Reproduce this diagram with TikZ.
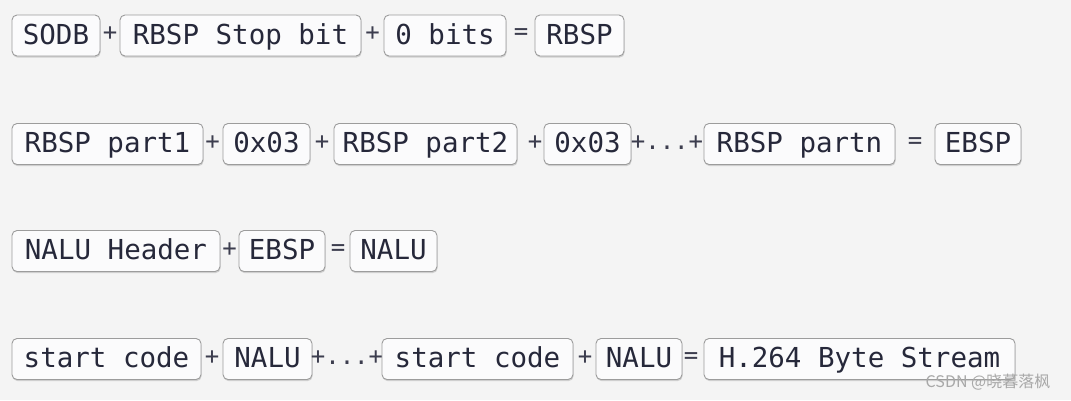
\documentclass[tikz,border=0pt]{standalone}
\usepackage{fontspec}
\usetikzlibrary{shadows}
\newfontfamily\monofont{DejaVu Sans Mono}
\newfontfamily\cjkfont{Noto Sans CJK SC}
\definecolor{bg}{HTML}{F4F4F4}
\definecolor{boxfill}{HTML}{FBFBFC}
\definecolor{boxline}{HTML}{9C9C9C}
\definecolor{txt}{HTML}{26283A}
\definecolor{wm}{HTML}{A8A8A8}
\tikzset{
  fld/.style={draw=boxline, line width=0.9pt, fill=boxfill, rounded corners=5pt,
    minimum height=41pt, inner sep=0pt, text=txt, text height=20pt, text depth=3pt,
    font=\monofont\fontsize{27.5}{30}\selectfont,
    drop shadow={shadow xshift=0.6pt, shadow yshift=-1.6pt, opacity=0.35, fill=black!45}},
  op/.style={inner sep=0pt, text=txt!90, font=\monofont\fontsize{24}{26}\selectfont},
  wmark/.style={inner sep=0pt, text=wm, font=\cjkfont\fontsize{16}{18}\selectfont}
}
\begin{document}
\begin{tikzpicture}[x=1pt,y=-1pt]
\fill[bg] (0,0) rectangle (1071,400);
\useasboundingbox (0,0) rectangle (1071,400);
% Row 1
\node[fld, minimum width=88] (sodb) at (56,35.5) {SODB};
\node[op] (r1p1) at (110,34) {+};
\node[fld, minimum width=241] (stop) at (240.5,35.5) {RBSP Stop bit};
\node[op] (r1p2) at (372.5,34) {+};
\node[fld, minimum width=122] (zero) at (445,35.5) {0 bits};
\node[op] (r1eq) at (521,34) {=};
\node[fld, minimum width=89] (rbsp) at (579.5,35.5) {RBSP};
% Row 2
\node[fld, minimum width=191] (part1) at (107.5,144) {RBSP part1};
\node[op] (r2p1) at (212.5,143) {+};
\node[fld, minimum width=87] (ep1) at (266.5,144) {0x03};
\node[op] (r2p2) at (322,143) {+};
\node[fld, minimum width=183] (part2) at (425.5,144) {RBSP part2};
\node[op] (r2p3) at (535,143) {+};
\node[fld, minimum width=87] (ep2) at (587.5,144) {0x03};
\node[op] (r2dots) at (667,143) {+...+};
\node[fld, minimum width=191] (partn) at (799.5,144) {RBSP partn};
\node[op] (r2eq) at (915,143) {=};
\node[fld, minimum width=86] (ebsp) at (978,144) {EBSP};
% Row 3
\node[fld, minimum width=208] (hdr) at (116,251) {NALU Header};
\node[op] (r3p1) at (229.5,250) {+};
\node[fld, minimum width=86] (ebsp2) at (282,251) {EBSP};
\node[op] (r3eq) at (338,250) {=};
\node[fld, minimum width=87] (nalu) at (393.5,251) {NALU};
% Row 4
\node[fld, minimum width=189] (sc1) at (106.5,359) {start code};
\node[op] (r4p1) at (212,358) {+};
\node[fld, minimum width=89] (nalu1) at (267.5,359) {NALU};
\node[op] (r4dots) at (347,358) {+...+};
\node[fld, minimum width=191] (sc2) at (477.5,359) {start code};
\node[op] (r4p2) at (585,358) {+};
\node[fld, minimum width=86] (nalu2) at (639,359) {NALU};
\node[op] (r4eq) at (691,358) {=};
\node[fld, minimum width=311] (stream) at (859.5,359) {H.264 Byte Stream};
% watermark
\node[wmark] (wmk) at (988,382) {CSDN @晓暮落枫};
\end{tikzpicture}
\end{document}
